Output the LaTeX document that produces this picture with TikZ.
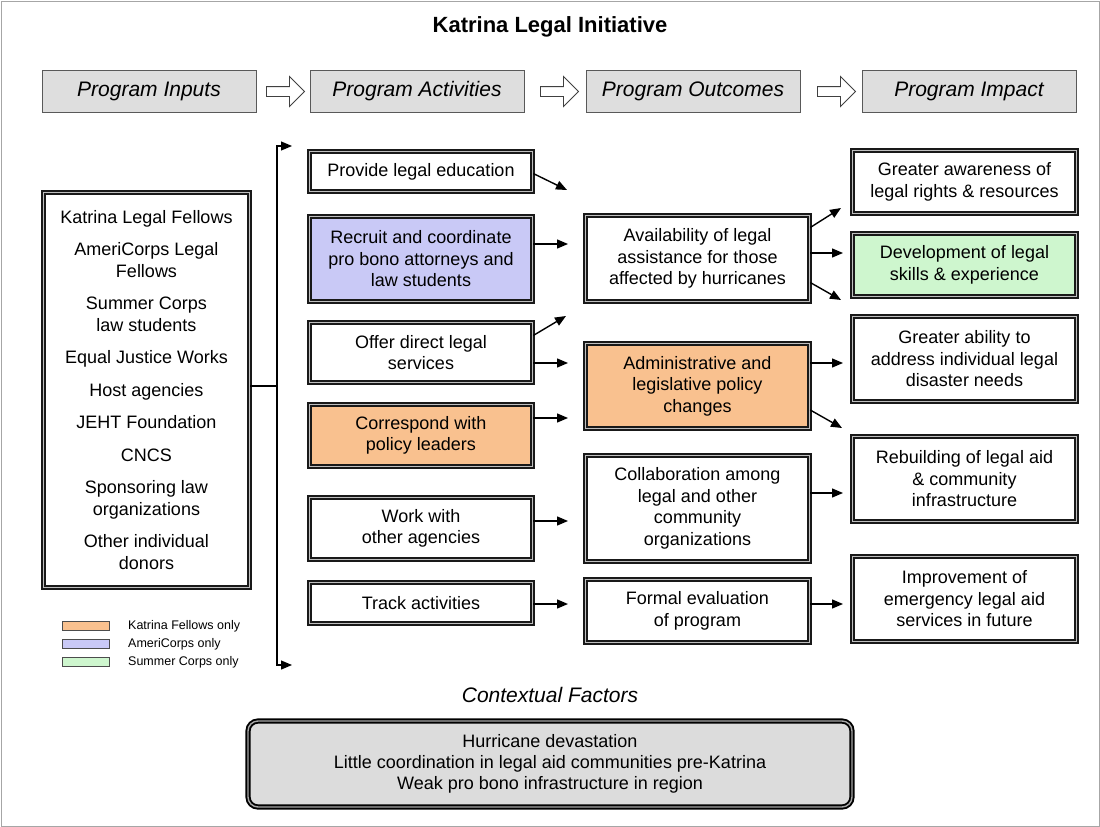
\documentclass[tikz,border=0pt]{standalone}
\usepackage{fontspec}
\setmainfont{Liberation Sans}
\usetikzlibrary{arrows.meta,shapes.arrows}

\definecolor{kfcol}{HTML}{F9C18F}
\definecolor{accol}{HTML}{C9C9F6}
\definecolor{sccol}{HTML}{CEF6CE}
\definecolor{hdrcol}{HTML}{DEDEDE}
\definecolor{ctxcol}{HTML}{DCDCDC}

\tikzset{
  hdr/.style={draw=black!65, line width=0.9pt, fill=hdrcol, minimum width=214pt, minimum height=42pt, font=\fontsize{21}{24}\selectfont\itshape},
  hollow/.style={single arrow, draw=black!75, line width=0.9pt, fill=white, minimum height=38pt, inner sep=4.5pt, single arrow head extend=10pt},
  box/.style={draw=black!90, line width=1.5pt, double=gray!50, double distance=1.1pt, fill=white, align=center, inner sep=2pt, font=\fontsize{18}{21.5}\selectfont},
  actbox/.style={box, minimum width=223pt},
  outbox/.style={box, minimum width=224pt},
  impbox/.style={box, minimum width=224pt},
  swatch/.style={draw=black!70, line width=0.8pt, minimum width=47pt, minimum height=9pt, inner sep=0pt},
  legtext/.style={anchor=west, inner sep=0pt, font=\fontsize{12.5}{14}\selectfont},
  link/.style={draw, line width=1.4pt, -{Triangle[length=11pt,width=9pt]}},
}

\begin{document}
\begin{tikzpicture}[x=1pt, y=-1pt]
    \useasboundingbox (0,0) rectangle (1100,827);
    \draw[gray!70, line width=1pt] (1,1) rectangle (1099,826);

    \node[font=\fontsize{22}{26}\selectfont\bfseries] (title) at (550,27) {Katrina Legal Initiative};

    \node[hdr] (hin) at (149,91.5) {Program Inputs};
    \node[hdr] (hact) at (417,91.5) {Program Activities};
    \node[hdr] (hout) at (693,91.5) {Program Outcomes};
    \node[hdr] (himp) at (969,91.5) {Program Impact};
    \node[hollow] (ar1) at (283,91.5) {};
    \node[hollow] (ar2) at (557,91.5) {};
    \node[hollow] (ar3) at (834,91.5) {};

    \node[box, minimum width=206pt, minimum height=395pt] (inputs) at (146.5,390) {Katrina Legal Fellows\\[11pt] AmeriCorps Legal\\Fellows\\[11pt] Summer Corps\\law students\\[11pt] Equal Justice Works\\[11pt] Host agencies\\[11pt] JEHT Foundation\\[11pt] CNCS\\[11pt] Sponsoring law\\organizations\\[11pt] Other individual\\donors};

    \node[actbox, minimum height=40pt] (edu) at (421,171.5) {Provide legal education};
    \node[actbox, minimum height=85pt, fill=accol] (recruit) at (421,259) {Recruit and coordinate\\pro bono attorneys and\\law students};
    \node[actbox, minimum height=60pt] (offer) at (421,352.5) {Offer direct legal\\services};
    \node[actbox, minimum height=62pt, fill=kfcol] (corr) at (421,435.5) {Correspond with\\policy leaders};
    \node[actbox, minimum height=62pt] (work) at (421,528.5) {Work with\\other agencies};
    \node[actbox, minimum height=41pt] (track) at (421,603) {Track activities};

    \node[outbox, minimum height=86pt] (avail) at (697.5,258.5) {Availability of legal\\assistance for those\\affected by hurricanes};
    \node[outbox, minimum height=85pt, fill=kfcol] (admin) at (697.5,386) {Administrative and\\legislative policy\\changes};
    \node[outbox, minimum height=106pt] (collab) at (697.5,508.5) {Collaboration among\\legal and other\\community\\organizations};
    \node[outbox, minimum height=63pt] (formal) at (697.5,611) {Formal evaluation\\of program};

    \node[impbox, minimum height=63pt] (aware) at (964.5,182) {Greater awareness of\\legal rights \& resources};
    \node[impbox, minimum height=63pt, fill=sccol] (develop) at (964.5,265) {Development of legal\\skills \& experience};
    \node[impbox, minimum height=85pt] (ability) at (964.5,359) {Greater ability to\\address individual legal\\disaster needs};
    \node[impbox, minimum height=85pt] (rebuild) at (964.5,479) {Rebuilding of legal aid\\\& community\\infrastructure};
    \node[impbox, minimum height=85pt] (improve) at (964.5,599) {Improvement of\\emergency legal aid\\services in future};

    \node[swatch, fill=kfcol] (lkf) at (85.5,626) {};
    \node[swatch, fill=accol] (lac) at (85.5,644) {};
    \node[swatch, fill=sccol] (lsc) at (85.5,662) {};
    \node[legtext] (tkf) at (128,626) {Katrina Fellows only};
    \node[legtext] (tac) at (128,644) {AmeriCorps only};
    \node[legtext] (tsc) at (128,662) {Summer Corps only};

    \node[font=\fontsize{21}{24}\selectfont\itshape] (ctxlabel) at (550,695) {Contextual Factors};
    \node[draw=black, line width=1.9pt, double=gray!70, double distance=1.4pt, fill=ctxcol, rounded corners=10pt, minimum width=604pt, minimum height=86pt, align=center, font=\fontsize{18}{21}\selectfont] (ctx) at (550,764) {Hurricane devastation\\Little coordination in legal aid communities pre-Katrina\\Weak pro bono infrastructure in region};

    \coordinate (bmid) at (277,386);
    \coordinate (btop) at (292,146);
    \coordinate (bbot) at (292,665);
    \coordinate (e1) at (567,190);
    \coordinate (e2) at (568,244);
    \coordinate (e3) at (566,316);
    \coordinate (e4) at (568,363);
    \coordinate (e5) at (568,418);
    \coordinate (e6) at (568,521);
    \coordinate (e7) at (568,604);
    \coordinate (f1) at (841,208);
    \coordinate (f2) at (843,253);
    \coordinate (f3) at (841,300);
    \coordinate (f4) at (843,363);
    \coordinate (f5) at (842,428);
    \coordinate (f6) at (843,493);
    \coordinate (f7) at (843,604);

    \path[draw, line width=1.2pt] (inputs.east |- bmid) -- (bmid);
    \path[link, line width=1.2pt] (bmid) |- (btop);
    \path[link, line width=1.2pt] (bmid) |- (bbot);

    \path[link] ([yshift=-2pt]edu.east) -- (e1);
    \path[link] (recruit.east |- e2) -- (e2);
    \path[link] ([yshift=17pt]offer.east) -- (e3);
    \path[link] (offer.east |- e4) -- (e4);
    \path[link] (corr.east |- e5) -- (e5);
    \path[link] (work.east |- e6) -- (e6);
    \path[link] (track.east |- e7) -- (e7);
    \path[link] ([yshift=31pt]avail.east) -- (f1);
    \path[link] (avail.east |- f2) -- (f2);
    \path[link] ([yshift=-24pt]avail.east) -- (f3);
    \path[link] (admin.east |- f4) -- (f4);
    \path[link] ([yshift=-24pt]admin.east) -- (f5);
    \path[link] (collab.east |- f6) -- (f6);
    \path[link] (formal.east |- f7) -- (f7);
\end{tikzpicture}
\end{document}
